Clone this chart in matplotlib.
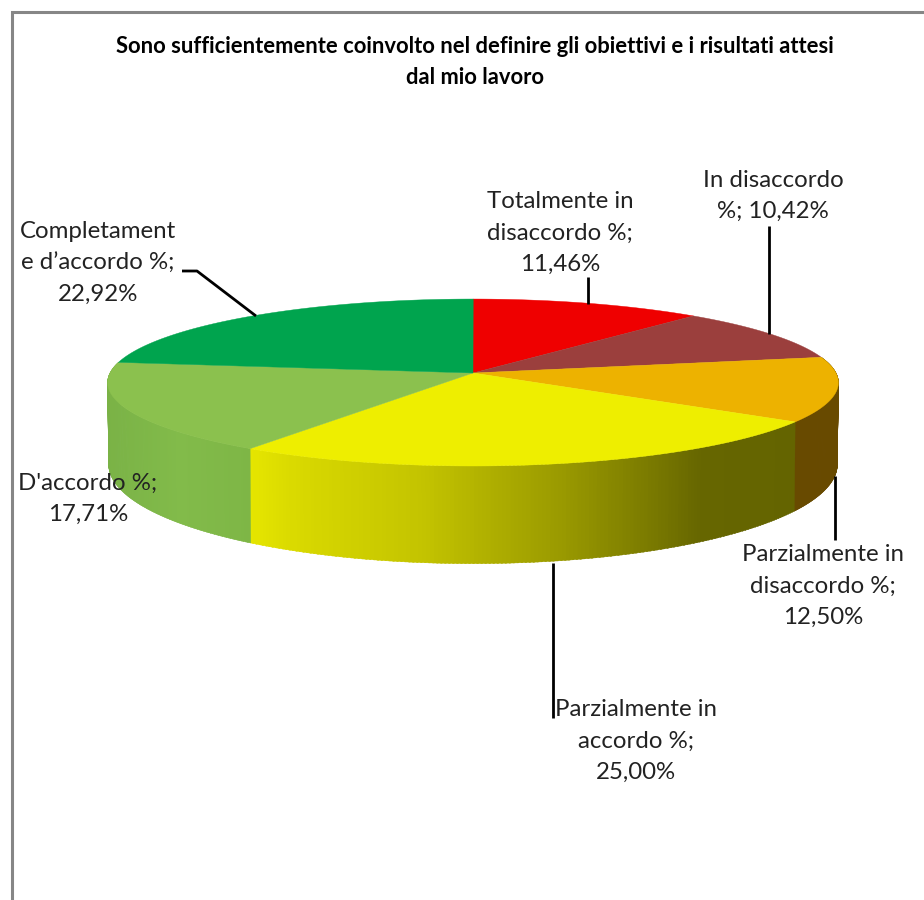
import matplotlib
matplotlib.use('Agg')
import matplotlib.pyplot as plt
import numpy as np
from matplotlib.patches import Polygon

plt.rcParams['font.family'] = ['Lato', 'DejaVu Sans']

TITLE = ('Sono sufficientemente coinvolto nel definire gli obiettivi e i risultati attesi\n'
         'dal mio lavoro')

# clockwise from 12 o'clock, as in the sheet
categories = ['Totalmente in\ndisaccordo %;', 'In disaccordo\n%;', 'Parzialmente in\ndisaccordo %;',
              'Parzialmente in\naccordo %;', "D'accordo %;", 'Completament\ne d’accordo %;']
values = [11.46, 10.42, 12.50, 25.00, 17.71, 22.92]
top_colors = ['#EF0000', '#9B3F3D', '#EDB200', '#EEEE00', '#8BC14E', '#00A44E']

# side shading, (pixel x, rgb) stops; only the front slices show a side
side_shades = {
    2: [(780, (104, 74, 0)), (840, (104, 74, 0))],
    3: [(249, (230, 230, 0)), (300, (216, 216, 0)), (420, (196, 196, 0)),
        (560, (154, 154, 0)), (650, (122, 122, 0)), (700, (102, 102, 0)), (800, (100, 100, 0))],
    4: [(105, (122, 178, 70)), (180, (130, 187, 74)), (250, (126, 182, 70))],
}

# label centre and leader polyline, in pixels
label_pos = [(560, 233), (773, 196), (823, 586), (636, 741), (88, 499), (98, 263)]
leaders = [
    [(588, 277), (588, 304)],
    [(769, 226), (769, 334)],
    [(835, 476), (835, 540)],
    [(553, 563), (553, 718)],
    None,
    [(182, 271), (197, 271), (256, 316)],
]

CX, CY = 473, 373
RX, RY, PERSP = 363, 82.4, 0.114
BOTTOM_CY, BOTTOM_RX, BOTTOM_RY = 453, 362, 98


def rim(theta, cy=CY, rx=RX, ry=RY):
    # perspective ellipse: theta is clockwise from the back of the disc
    u, v = np.sin(theta), np.cos(theta)
    s = 1 / (1 + PERSP * v)
    return CX + rx * u * s, cy - ry * v * s


fig = plt.figure(figsize=(9.24, 9.0), dpi=100)
ax = fig.add_axes([0, 0, 1, 1])
ax.set_xlim(0, 924)
ax.set_ylim(900, 0)
ax.axis('off')

# chart frame, only top and left are inside the crop
ax.plot([12, 12, 924], [900, 12, 12], color='#868686', lw=2.2, solid_joinstyle='miter')

edges = np.radians(np.concatenate([[0], np.cumsum(values)]) * 3.6)

# sides first, the top disc covers what is left over
for i, stops in side_shades.items():
    thetas = np.linspace(edges[i], edges[i + 1], 160)
    xs = [s[0] for s in stops]
    for a, b in zip(thetas[:-1], thetas[1:]):
        t_pair = np.array([a, b + 0.004])
        xt, yt = rim(t_pair)
        xb, yb = rim(t_pair, BOTTOM_CY, BOTTOM_RX, BOTTOM_RY)
        mid = (xt.mean() + xb.mean()) / 2
        rgb = [np.interp(mid, xs, [s[1][c] for s in stops]) / 255 for c in range(3)]
        ax.add_patch(Polygon(np.column_stack([[xt[0], xt[1], xb[1], xb[0]],
                                              [yt[0], yt[1], yb[1], yb[0]]]),
                             closed=True, facecolor=rgb, edgecolor=rgb, lw=0.3, zorder=2))

for i, color in enumerate(top_colors):
    thetas = np.linspace(edges[i], edges[i + 1], 120)
    x, y = rim(thetas)
    pts = np.column_stack([np.r_[CX, x], np.r_[CY, y]])
    ax.add_patch(Polygon(pts, closed=True, facecolor=color, edgecolor=color, lw=0.3, zorder=3))

for line in leaders:
    if line is not None:
        ax.plot(*zip(*line), color='black', lw=2.0, zorder=4, solid_capstyle='butt')

for name, val, (lx, ly) in zip(categories, values, label_pos):
    sep = ' ' if name.endswith('\n%;') else '\n'
    text = name + sep + f'{val:.2f}%'.replace('.', ',')
    ax.text(lx, ly, text, ha='center', va='center', fontsize=17.3, color='#222222',
            linespacing=1.62, zorder=5)

ax.text(475, 62, TITLE, ha='center', va='center', fontsize=15.8, fontweight='bold',
        color='black', linespacing=1.55, zorder=5)

fig.savefig('out.png', dpi=100)
